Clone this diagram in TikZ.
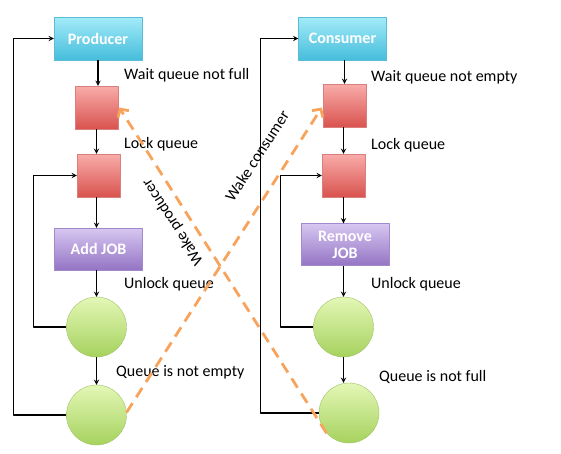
\documentclass[tikz,border=0pt]{standalone}
\usepackage{fontspec}
\setmainfont{Carlito}
\usetikzlibrary{arrows.meta}
\definecolor{wakeorange}{HTML}{F7A35C}
\definecolor{cyantop}{HTML}{A3EBF9}
\definecolor{cyanbot}{HTML}{45BDDB}
\definecolor{cyanline}{HTML}{5BBCD6}
\definecolor{redtop}{HTML}{F8ACA9}
\definecolor{redbot}{HTML}{D9534F}
\definecolor{redline}{HTML}{D9807D}
\definecolor{purptop}{HTML}{D7C7F1}
\definecolor{purpbot}{HTML}{9474C4}
\definecolor{purpline}{HTML}{A08AC9}
\definecolor{greentop}{HTML}{E3F7B6}
\definecolor{greenbot}{HTML}{A6D25E}
\definecolor{greenline}{HTML}{A0C266}
\tikzset{
  threadbox/.style={draw=cyanline, rectangle, top color=cyantop, bottom color=cyanbot, text=white, font=\fontsize{16}{19}\selectfont\bfseries, minimum width=88pt, minimum height=43pt, inner sep=0pt},
  lockbox/.style={draw=redline, rectangle, top color=redtop, bottom color=redbot, minimum size=43pt, inner sep=0pt},
  jobbox/.style={draw=purpline, rectangle, top color=purptop, bottom color=purpbot, text=white, font=\fontsize{16}{19}\selectfont\bfseries, minimum width=88pt, minimum height=42pt, inner sep=0pt, align=center},
  statecirc/.style={draw=greenline, circle, top color=greentop, bottom color=greenbot, minimum size=60pt, inner sep=0pt},
  steplabel/.style={anchor=west, inner sep=0pt},
  flow/.style={->, line width=1.3pt},
  wake/.style={wakeorange, line width=2.8pt, dash pattern=on 11pt off 7pt, -{Straight Barb[length=6pt,width=13pt]}}
}
\begin{document}
\begin{tikzpicture}[x=1pt, y=-1pt, font=\fontsize{16}{19}\selectfont, line join=round, >=stealth]
  \useasboundingbox (0,0) rectangle (561,453);
  % producer side
  \node[threadbox] (prod) at (98,38.5) {Producer};
  \node[lockbox] (wfull) at (96.5,107.5) {};
  \node[lockbox] (lockp) at (98.5,175.5) {};
  \node[jobbox] (add) at (98.5,249) {Add JOB};
  \node[statecirc] (unlp) at (96.5,327) {};
  \node[statecirc] (nempty) at (96.5,415) {};
  % consumer side
  \node[threadbox] (cons) at (342.5,38.5) {Consumer};
  \node[lockbox] (wempty) at (344.5,105.5) {};
  \node[lockbox] (lockc) at (343.5,175.5) {};
  \node[jobbox] (remove) at (345,244.5) {Remove\\[-2pt]JOB};
  \node[statecirc] (unlc) at (343.5,327) {};
  \node[statecirc] (nfull) at (349,413) {};
  % steps
  \draw[flow] (prod) -- (prod |- wfull.north);
  \draw[flow] (wfull) -- (wfull |- lockp.north);
  \draw[flow] (lockp.south -| unlp) -- (add.north -| unlp);
  \draw[flow] (add.south -| unlp) -- (unlp.north);
  \draw[flow] (unlp) -- (nempty.north);
  \draw[flow] (cons.south -| wempty) -- (wempty.north);
  \draw[flow] (wempty.south -| lockc) -- (lockc.north);
  \draw[flow] (lockc.south) -- (lockc.south |- remove.north);
  \draw[flow] (remove.south -| unlc) -- (unlc.north);
  \draw[flow] (unlc.south) -- (unlc.south |- nfull.north);
  % loops
  \draw[flow] (nempty.west) -- ++(-52.5,0) |- (prod.west);
  \draw[flow] (unlp.west) -- ++(-32.5,0) |- (lockp.west);
  \draw[flow] (nfull.west) -- ++(-58,0) |- (cons.west);
  \draw[flow] (unlc.west) -- ++(-33,0) |- (lockc.west);
  % step labels
  \node[steplabel] (lwf) at (124,75) {Wait queue not full};
  \node[steplabel] (llp) at (124,144) {Lock queue};
  \node[steplabel] (lup) at (124,284) {Unlock queue};
  \node[steplabel] (lne) at (116,372) {Queue is not empty};
  \node[steplabel] (lwe) at (371,77) {Wait queue not empty};
  \node[steplabel] (llc) at (371,145) {Lock queue};
  \node[steplabel] (luc) at (371,284) {Unlock queue};
  \node[steplabel] (lnf) at (379,377) {Queue is not full};
  % wake signals
  \draw[wake] (nfull.222) -- ([xshift=1pt]wfull.east);
  \draw[wake] (nempty.5) -- ([xshift=-1pt,yshift=-2pt]wempty.west);
  \node[rotate=-57+180] (wp) at (173,222) {Wake producer};
  \node[rotate=57] (wc) at (257,156) {Wake consumer};
\end{tikzpicture}
\end{document}
